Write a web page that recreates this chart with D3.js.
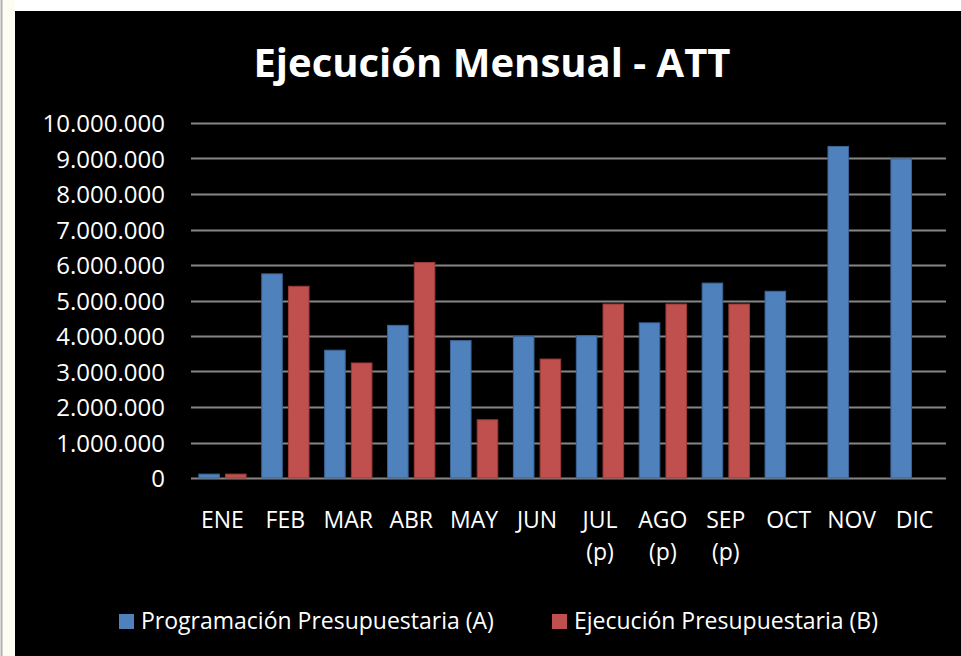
<!DOCTYPE html>
<html>
<head>
<meta charset="utf-8">
<script src="https://cdn.jsdelivr.net/npm/d3@7"></script>
<style>
  body { margin: 0; background: #ffffff; }
  #chart { width: 961px; height: 656px; }
  text { font-family: "Open Sans", "Noto Sans", sans-serif; fill: #ffffff; }
</style>
</head>
<body>
<div id="chart"></div>
<script>
// months on the x axis (second line is the "(p)" note)
var months = ['ENE', 'FEB', 'MAR', 'ABR', 'MAY', 'JUN', 'JUL', 'AGO', 'SEP', 'OCT', 'NOV', 'DIC'];
var monthNotes = ['', '', '', '', '', '', '(p)', '(p)', '(p)', '', '', ''];

// series values
var programacion = [110000, 5750000, 3600000, 4300000, 3870000, 3990000, 4010000, 4370000, 5490000, 5260000, 9340000, 8990000];
var ejecucion = [110000, 5400000, 3240000, 6070000, 1640000, 3350000, 4900000, 4900000, 4900000, null, null, null];

var seriesNames = ['Programación Presupuestaria (A)', 'Ejecución Presupuestaria (B)'];
var yTicks = [0, 1000000, 2000000, 3000000, 4000000, 5000000, 6000000, 7000000, 8000000, 9000000, 10000000];

var colors = ['#4f81bd', '#c0504d'];
var strokes = ['#3b6596', '#9c3b38'];

var margin = { top: 123, right: 15, bottom: 178, left: 191 };
var W = 961, H = 656;
var width = W - margin.left - margin.right;
var height = H - margin.top - margin.bottom;

var svg = d3.select('#chart').append('svg')
  .attr('width', W)
  .attr('height', H);

// page frame: pale strip on the left, black chart area
svg.append('rect').attr('x', 2).attr('y', 0).attr('width', 13).attr('height', H).attr('fill', '#fdfdf3');
svg.append('line').attr('x1', 1.5).attr('x2', 1.5).attr('y1', 0).attr('y2', H).attr('stroke', '#b0b0b0').attr('stroke-width', 2);
svg.append('rect').attr('x', 15).attr('y', 11).attr('width', W - 15).attr('height', H - 11).attr('fill', '#000000');

var g = svg.append('g').attr('transform', 'translate(' + margin.left + ',' + margin.top + ')');

var x0 = d3.scaleBand().domain(months).range([0, width]).padding(0);
var x1 = d3.scaleBand().domain([0, 1]).range([7.8, x0.bandwidth() - 7.8]).paddingInner(0.23);
var y = d3.scaleLinear().domain([0, 10000000]).range([height, 0]);

var fmt = function (v) { return d3.format(',')(v).replace(/,/g, '.'); };

// gridlines
g.append('g')
  .selectAll('line')
  .data(yTicks)
  .enter().append('line')
  .attr('x1', 0)
  .attr('x2', width)
  .attr('y1', function (d) { return Math.round(y(d)) + 0.5; })
  .attr('y2', function (d) { return Math.round(y(d)) + 0.5; })
  .attr('stroke', '#868686')
  .attr('stroke-width', 2);

// y axis labels
var yAxis = d3.axisLeft(y).tickValues(yTicks).tickFormat(fmt).tickSize(0).tickPadding(26);
var ya = g.append('g').call(yAxis);
ya.select('.domain').remove();
ya.selectAll('text').style('font-size', '24px').attr('fill', '#ffffff').attr('dy', '0.36em');

// bars
var rows = months.map(function (m, i) { return { month: m, vals: [programacion[i], ejecucion[i]] }; });

var groups = g.selectAll('.grp')
  .data(rows)
  .enter().append('g')
  .attr('class', 'grp')
  .attr('transform', function (d) { return 'translate(' + x0(d.month) + ',0)'; });

groups.selectAll('rect')
  .data(function (d) { return d.vals.map(function (v, k) { return { k: k, v: v }; }).filter(function (e) { return e.v != null; }); })
  .enter().append('rect')
  .attr('x', function (d) { return x1(d.k); })
  .attr('width', x1.bandwidth())
  .attr('y', function (d) { return y(d.v); })
  .attr('height', function (d) { return height - y(d.v); })
  .attr('fill', function (d) { return colors[d.k]; })
  .attr('stroke', function (d) { return strokes[d.k]; })
  .attr('stroke-width', 1);

// x axis labels
var xl = g.append('g').attr('transform', 'translate(0,' + height + ')');
xl.selectAll('.m')
  .data(months)
  .enter().append('text')
  .attr('x', function (d) { return x0(d) + x0.bandwidth() / 2; })
  .attr('y', 50)
  .attr('text-anchor', 'middle')
  .style('font-size', '23px')
  .text(function (d) { return d; });
xl.selectAll('.n')
  .data(months)
  .enter().append('text')
  .attr('x', function (d) { return x0(d) + x0.bandwidth() / 2; })
  .attr('y', 82)
  .attr('text-anchor', 'middle')
  .style('font-size', '23px')
  .text(function (d, i) { return monthNotes[i]; });

// title
svg.append('text')
  .attr('x', 492)
  .attr('y', 77)
  .attr('text-anchor', 'middle')
  .style('font-size', '40px')
  .style('font-weight', 'bold')
  .text('Ejecución Mensual - ATT');

// legend
var legX = [119, 552];
var leg = svg.selectAll('.leg')
  .data(seriesNames)
  .enter().append('g')
  .attr('class', 'leg')
  .attr('transform', function (d, i) { return 'translate(' + legX[i] + ',614)'; });
leg.append('rect')
  .attr('width', 15)
  .attr('height', 15)
  .attr('fill', function (d, i) { return colors[i]; });
leg.append('text')
  .attr('x', 22)
  .attr('y', 15)
  .style('font-size', '23px')
  .text(function (d) { return d; });
</script>
</body>
</html>
